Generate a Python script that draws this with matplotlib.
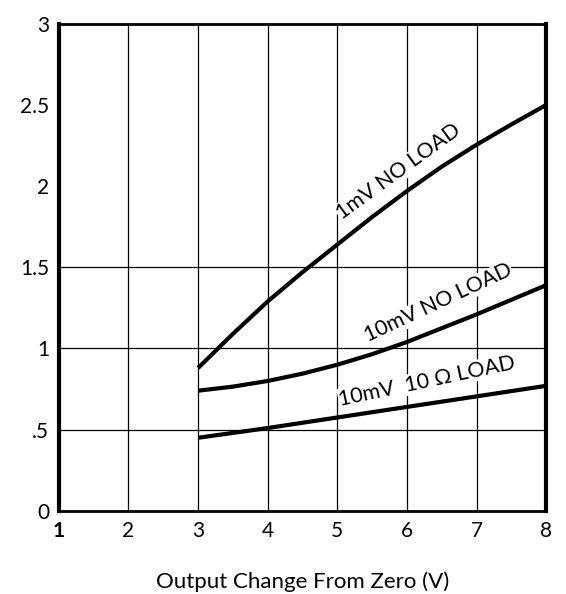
import matplotlib
matplotlib.use('Agg')
import matplotlib.pyplot as plt

plt.rcParams['font.family'] = ['Lato', 'DejaVu Sans']

# output change (V) vs. curve values
x_1mv = [3, 3.5, 4, 4.5, 5, 5.5, 6, 6.5, 7, 7.5, 8]
y_1mv = [0.88, 1.09, 1.29, 1.47, 1.64, 1.81, 1.97, 2.12, 2.255, 2.38, 2.50]

x_10mv = [3, 3.5, 4, 4.5, 5, 5.5, 6, 6.5, 7, 7.5, 8]
y_10mv = [0.74, 0.765, 0.80, 0.845, 0.90, 0.965, 1.04, 1.125, 1.21, 1.30, 1.39]

x_10ohm = [3, 4, 5, 6, 7, 8]
y_10ohm = [0.45, 0.51, 0.575, 0.64, 0.705, 0.77]

xticks = [1, 2, 3, 4, 5, 6, 7, 8]
yticks = [0, 0.5, 1, 1.5, 2, 2.5, 3]
ytick_labels = ['0', '.5', '1', '1.5', '2', '2.5', '3']

fig = plt.figure(figsize=(5.66, 5.94), dpi=100)
ax = fig.add_axes([0.104, 0.140, 0.861, 0.820])

# grid: every volt vertically, only the lower half horizontally
for xv in xticks[1:-1]:
    ax.axvline(xv, color='black', lw=0.9, zorder=1)
for yv in [0.5, 1.0, 1.5]:
    ax.axhline(yv, color='black', lw=0.9, zorder=1)

ax.plot(x_1mv, y_1mv, color='black', lw=3, solid_capstyle='butt', zorder=3)
ax.plot(x_10mv, y_10mv, color='black', lw=3, solid_capstyle='butt', zorder=3)
ax.plot(x_10ohm, y_10ohm, color='black', lw=3, solid_capstyle='butt', zorder=3)

box = dict(facecolor='white', edgecolor='none', pad=0.5)
ax.text(5.88, 2.09, '1mV NO LOAD', rotation=36, ha='center', va='center',
        fontsize=15.5, bbox=box, zorder=2)
ax.text(6.45, 1.28, '10mV NO LOAD', rotation=25, ha='center', va='center',
        fontsize=15.5, bbox=box, zorder=2)
ax.text(6.29, 0.80, '10mV  10 \u03a9 LOAD', rotation=12, ha='center', va='center',
        fontsize=15.5, bbox=box, zorder=2)

ax.set_xlim(1, 8)
ax.set_ylim(0, 3)
ax.set_xticks(xticks)
ax.set_yticks(yticks)
ax.set_yticklabels(ytick_labels)
ax.tick_params(length=0, labelsize=15, pad=7)
ax.get_xticklabels()[0].set_fontweight('bold')

for side in ['left', 'right']:
    ax.spines[side].set_linewidth(3)
for side in ['top', 'bottom']:
    ax.spines[side].set_linewidth(2)

ax.set_xlabel('Output Change From Zero (V)', fontsize=16, labelpad=22)

fig.savefig('out.png', dpi=100)
